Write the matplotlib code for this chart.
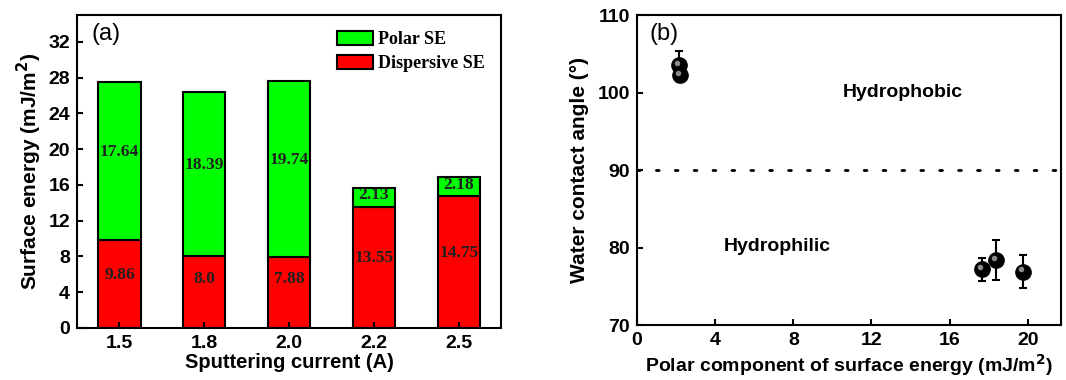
#!/usr/bin/env python3
import matplotlib

matplotlib.use("Agg")
import matplotlib.pyplot as plt
import matplotlib.transforms as mtransforms

# panel (a): surface energy components vs sputtering current
currents = ["1.5", "1.8", "2.0", "2.2", "2.5"]
dispersive_se = [9.86, 8.0, 7.88, 13.55, 14.75]
polar_se = [17.64, 18.39, 19.74, 2.13, 2.18]
dispersive_labels = ["9.86", "8.0", "7.88", "13.55", "14.75"]
polar_labels = ["17.64", "18.39", "19.74", "2.13", "2.18"]

# panel (b): water contact angle vs polar component
polar_x = [2.13, 2.18, 17.64, 18.39, 19.74]
contact_angle = [103.6, 102.2, 77.2, 78.4, 76.9]
angle_err = [1.8, 0.8, 1.5, 2.6, 2.1]

SANS = "Liberation Sans"
SERIF = "Liberation Serif"

plt.rcParams["font.family"] = SANS
plt.rcParams["font.weight"] = "bold"
plt.rcParams["axes.linewidth"] = 1.5


def style_axes(ax):
    ax.tick_params(direction="in", width=1.5, length=4, labelsize=14, pad=5)
    for lbl in ax.get_xticklabels() + ax.get_yticklabels():
        lbl.set_fontweight("bold")


fig = plt.figure(figsize=(10.66, 3.8), dpi=100)
ax1 = fig.add_axes([0.0722, 0.137, 0.398, 0.8235])
ax2 = fig.add_axes([0.5976, 0.1447, 0.3977, 0.8158])

# ---- (a) stacked bars
pos = list(range(len(currents)))
ax1.bar(pos, dispersive_se, width=0.5, color="#ff0000", edgecolor="black",
        linewidth=1.5, label="Dispersive SE")
ax1.bar(pos, polar_se, width=0.5, bottom=dispersive_se, color="#00ff00",
        edgecolor="black", linewidth=1.5, label="Polar SE")
for i in pos:
    d, p = dispersive_se[i], polar_se[i]
    ax1.text(i, d / 2 + 1.0 if d > 9 else d / 2 + 1.5, dispersive_labels[i],
             ha="center", va="center", family=SERIF, fontweight="bold",
             fontsize=12.5, color="#202020")
    py = d + p / 2 + (1.0 if p > 5 else 0.2)
    ax1.text(i, py, polar_labels[i], ha="center", va="center", family=SERIF,
             fontweight="bold", fontsize=12.5, color="#202020")
ax1.set_xlim(-0.5, 4.5)
ax1.set_ylim(0, 35)
ax1.set_xticks(pos)
ax1.set_xticklabels(currents)
ax1.set_yticks(range(0, 33, 4))
ax1.set_xlabel("Sputtering current (A)", fontsize=14.5, fontweight="bold", labelpad=1)
ax1.set_ylabel("Surface energy (mJ/m$^\\mathbf{2}$)", fontsize=15, fontweight="bold",
               labelpad=3)
style_axes(ax1)
handles, labels = ax1.get_legend_handles_labels()
ax1.legend(handles[::-1], labels[::-1], loc="upper right", frameon=False,
           prop={"family": SERIF, "weight": "bold", "size": 13},
           handlelength=1.95, handleheight=0.8, labelspacing=0.35,
           handletextpad=0.3, borderaxespad=0.5)
ax1.text(0.035, 0.94, "(a)", transform=ax1.transAxes, fontsize=17,
         fontweight="normal", va="center", ha="left")

# ---- (b) contact angle
ax2.axhline(90, color="black", linewidth=2, linestyle=(0, (1, 5.8)),
            dash_capstyle="round")
ax2.errorbar(polar_x, contact_angle, yerr=angle_err, fmt="none",
             ecolor="black", elinewidth=1.5, capsize=3, capthick=1.5, zorder=2)
ax2.plot(polar_x, contact_angle, "o", color="black", markersize=11, zorder=3)
hl = mtransforms.offset_copy(ax2.transData, fig=fig, x=-1.5, y=1.5, units="points")
ax2.plot(polar_x, contact_angle, "o", color="#8a8a8a", markersize=4,
         markeredgewidth=0, transform=hl, zorder=4)
ax2.text(13.6, 100, "Hydrophobic", ha="center", va="center", fontsize=14,
         fontweight="bold")
ax2.text(7.2, 80.1, "Hydrophilic", ha="center", va="center", fontsize=14,
         fontweight="bold")
ax2.text(0.03, 0.94, "(b)", transform=ax2.transAxes, fontsize=17,
         fontweight="normal", va="center", ha="left")
ax2.set_xlim(0, 21.7)
ax2.set_ylim(70, 110)
ax2.set_xticks(range(0, 21, 4))
ax2.set_yticks(range(70, 111, 10))
ax2.set_xlabel("Polar component of surface energy (mJ/m$^\\mathbf{2}$)",
               fontsize=14, fontweight="bold", labelpad=2)
ax2.set_ylabel("Water contact angle (°)", fontsize=15, fontweight="bold",
               labelpad=6)
style_axes(ax2)

fig.savefig("out.png", dpi=100)
